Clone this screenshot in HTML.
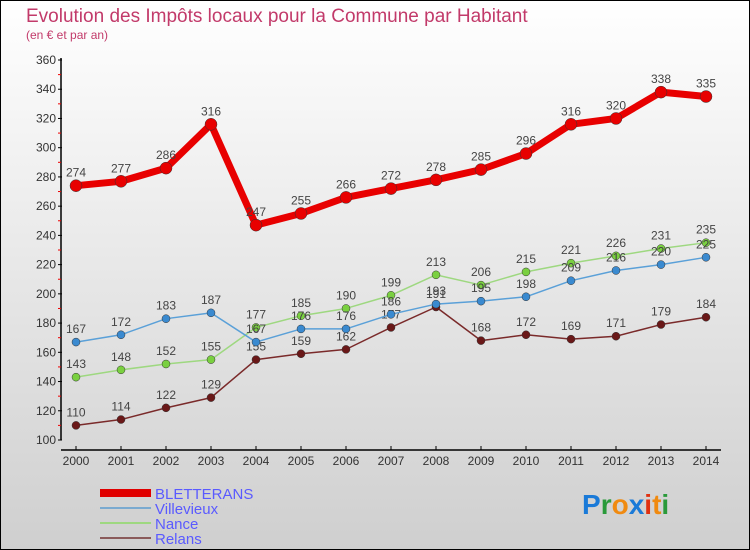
<!DOCTYPE html>
<html><head><meta charset="utf-8"><style>
body{margin:0}
#c{width:750px;height:550px;position:relative;overflow:hidden}
svg text{font-family:"Liberation Sans",sans-serif}
</style></head><body>
<div id="c">
<svg id="s" width="750" height="550" xmlns="http://www.w3.org/2000/svg">
<defs><linearGradient id="bg" x1="0" y1="0" x2="0" y2="1"><stop offset="0" stop-color="#ffffff"/><stop offset="1" stop-color="#cfcfcf"/></linearGradient></defs>
<rect x="0.5" y="0.5" width="749" height="549" fill="url(#bg)" stroke="#000"/>
<text x="26" y="22" font-size="19" fill="#c23a6a">Evolution des Impôts locaux pour la Commune par Habitant</text>
<text x="26" y="39" font-size="12" fill="#c23a6a">(en € et par an)</text>
<g id="axes"></g><g id="series"></g>
<g>
<line x1="100" y1="493" x2="151" y2="493" stroke="#e00000" stroke-width="8"/>
<text x="155" y="499" font-size="15" fill="#5a5aff">BLETTERANS</text>
<line x1="100" y1="508" x2="151" y2="508" stroke="#7aaad0" stroke-width="2"/>
<text x="155" y="514" font-size="15" fill="#5a5aff">Villevieux</text>
<line x1="100" y1="523" x2="151" y2="523" stroke="#9ed880" stroke-width="2"/>
<text x="155" y="529" font-size="15" fill="#5a5aff">Nance</text>
<line x1="100" y1="538" x2="151" y2="538" stroke="#8a5a5a" stroke-width="2"/>
<text x="155" y="544" font-size="15" fill="#5a5aff">Relans</text>
</g>
<text x="582" y="514" font-size="28" font-weight="bold"><tspan fill="#1a7ad8">P</tspan><tspan fill="#2a9a3a">r</tspan><tspan fill="#f08a10">o</tspan><tspan fill="#1a7ad8">x</tspan><tspan fill="#e03010">i</tspan><tspan fill="#f08a10">t</tspan><tspan fill="#2a9a3a">i</tspan></text>
</svg></div>
<script>
const years=[2000,2001,2002,2003,2004,2005,2006,2007,2008,2009,2010,2011,2012,2013,2014];
const yTicks=[100,120,140,160,180,200,220,240,260,280,300,320,340,360];
const bletterans=[274,277,286,316,247,255,266,272,278,285,296,316,320,338,335];
const villevieux=[167,172,183,187,167,176,176,186,193,195,198,209,216,220,225];
const nance=[143,148,152,155,177,185,190,199,213,206,215,221,226,231,235];
const relans=[110,114,122,129,155,159,162,177,191,168,172,169,171,179,184];
const NS="http://www.w3.org/2000/svg";
function X(i){return 76+i*45;}
function Y(v){return 440-(v-100)*380/260;}
function mk(t,a,p){const e=document.createElementNS(NS,t);for(const k in a)e.setAttribute(k,a[k]);p.appendChild(e);return e;}
const ax=document.getElementById('axes');
let e=mk('line',{x1:61,y1:58,x2:61,y2:440,stroke:'#000','stroke-width':1.5},ax);


e=mk('line',{x1:61,y1:450,x2:721,y2:450,stroke:'#000','stroke-width':1.5},ax);


yTicks.forEach((v,i)=>{
 mk('line',{x1:58,y1:Y(v),x2:62,y2:Y(v),stroke:'#000'},ax);
 const t=mk('text',{x:56,y:Y(v)+4,'font-size':12,fill:'#333','text-anchor':'end'},ax);t.textContent=v;
 
 
 if(i<yTicks.length-1)mk('line',{x1:58,y1:Y(v+10),x2:61,y2:Y(v+10),stroke:'#e00'},ax);
});
years.forEach((y,i)=>{
 mk('line',{x1:X(i),y1:446,x2:X(i),y2:450,stroke:'#000'},ax);
 const t=mk('text',{x:X(i),y:465,'font-size':12,fill:'#333','text-anchor':'middle'},ax);t.textContent=y;
 
 
});
const sg=document.getElementById('series');
function draw(name,vals,color,lw,r,dot){
 const g=mk('g',{},sg);
 
 
 mk('polyline',{points:vals.map((v,i)=>X(i)+','+Y(v)).join(' '),fill:'none',stroke:color,'stroke-width':lw,'stroke-linejoin':'round'},g);
 vals.forEach((v,i)=>{
  const c=mk('circle',{cx:X(i),cy:Y(v),r:r,fill:dot,stroke:'#333','stroke-width':0.5},g);
  
  
  const t=mk('text',{x:X(i),y:Y(v)-9,'font-size':12,fill:'#444','text-anchor':'middle'},g);t.textContent=v;
  
  
 });
}
draw('relans',relans,'#7a2a2a',1.5,4,'#6a1818');
draw('nance',nance,'#9ed880',1.5,4,'#7ad040');
draw('villevieux',villevieux,'#5aa0d8',1.5,4,'#3a8ad0');
draw('bletterans',bletterans,'#e80000',7,6,'#e80000');
</script>
</body></html>
